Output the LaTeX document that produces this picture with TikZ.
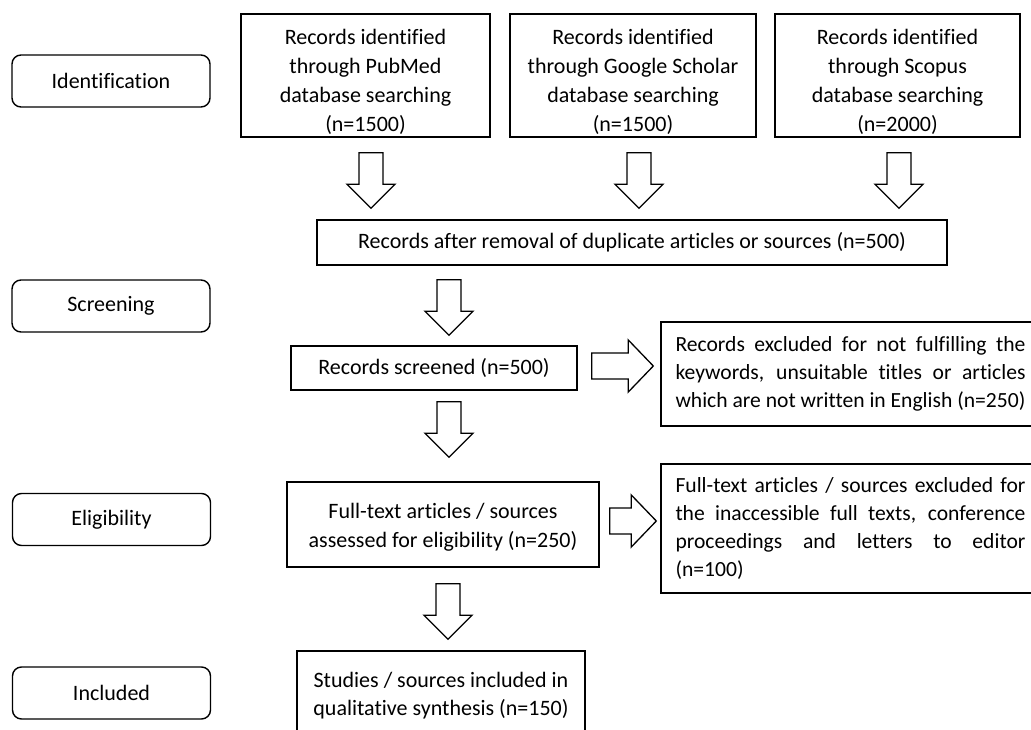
\documentclass[tikz,border=0pt]{standalone}
\usepackage{fontspec}
\setmainfont[Ligatures=CommonOff]{Carlito}
\usetikzlibrary{calc}
\tikzset{
  box/.style={draw, line width=1.4pt, align=center, inner sep=0pt, font=\fontsize{22}{28.7}\selectfont},
  stage/.style={box, rounded corners=9pt, minimum width=198pt, minimum height=52pt},
  exbox/.style={box, align=justify, text width=350pt, minimum width=379pt, font=\fontsize{21.6}{27.8}\selectfont},
  blk/.style={draw, line width=1.3pt, fill=white, line join=miter},
  blkdown/.style={blk, to path={let \p1=(\tikztostart), \p2=(\tikztotarget) in
    (\x1-12pt,\y1) -- (\x1+12pt,\y1) -- (\x1+12pt,\y2+24pt) -- (\x1+24pt,\y2+24pt)
    -- (\x1,\y2) -- (\x1-24pt,\y2+24pt) -- (\x1-12pt,\y2+24pt) -- cycle}},
  blkright/.style={blk, to path={let \p1=(\tikztostart), \p2=(\tikztotarget) in
    (\x1,\y1-13pt) -- (\x2-25pt,\y1-13pt) -- (\x2-25pt,\y1-26pt) -- (\x2,\y1)
    -- (\x2-25pt,\y1+26pt) -- (\x2-25pt,\y1+13pt) -- (\x1,\y1+13pt) -- cycle}},
}
\newcommand{\lowerby}[1]{\rule{0pt}{#1}}
\begin{document}
\begin{tikzpicture}[x=1pt,y=-1pt]
\useasboundingbox (0,0) rectangle (1031,730);
\fill[white] (0,0) rectangle (1031,730);

% stage labels
\node[stage] (idl) at (111,81) {Identification};
\node[stage] (scl) at (111,306) {Screening};
\node[stage] (ell) at (111.5,519.5) {Eligibility};
\node[stage] (inl) at (111.5,693) {Included};

% identification boxes
\node[box, minimum width=249pt, minimum height=123pt] (pub) at (365.5,75.5)
  {\lowerby{28pt}Records identified\\through PubMed\\database searching\\(n=1500)};
\node[box, minimum width=246pt, minimum height=123pt] (ggl) at (633,75.5)
  {\lowerby{28pt}Records identified\\through Google Scholar\\database searching\\(n=1500)};
\node[box, minimum width=245pt, minimum height=123pt] (sco) at (897.5,75.5)
  {\lowerby{28pt}Records identified\\through Scopus\\database searching\\(n=2000)};

\node[box, minimum width=630pt, minimum height=45pt] (rem) at (632,242.5)
  {Records after removal of duplicate articles or sources (n=500)};

\node[box, minimum width=286pt, minimum height=44pt] (scr) at (434,368)
  {Records screened (n=500)};

\node[exbox, minimum height=104pt] (ex1) at (850.5,374)
  {Records excluded for not fulfilling the\linebreak keywords, unsuitable titles or articles\linebreak which are not written in English (n=250)};

\node[box, minimum width=312pt, minimum height=85pt] (ful) at (443,524.5)
  {\lowerby{21pt}Full-text articles / sources\\assessed for eligibility (n=250)};

\node[exbox, minimum height=129pt] (ex2) at (850.5,528.5)
  {Full-text articles / sources excluded for\linebreak the inaccessible full texts, conference\linebreak proceedings and letters to editor\linebreak (n=100)};

\node[box, minimum width=288pt, minimum height=89pt] (inc) at (441,695.5)
  {Studies / sources included in\\qualitative synthesis (n=150)};

% block arrows
\draw[blkdown] ($(pub.south)+(5.5,15)$) to ($(rem.north)+(0,-11)$);
\draw[blkdown] ($(ggl.south)+(6,15)$) to ($(rem.north)+(0,-11)$);
\draw[blkdown] ($(sco.south)+(1.5,15)$) to ($(rem.north)+(0,-11)$);
\draw[blkdown] ($(rem.south -| scr.north)+(15,14)$) to ($(scr.north)+(0,-10)$);
\draw[blkdown] ($(scr.south)+(15,11)$) to ($(ful.north)+(0,-24)$);
\draw[blkdown] ($(ful.south)+(5,16)$) to ($(inc.north)+(0,-11)$);
\draw[blkright] ($(scr.east)+(14,-2)$) to ($(ex1.west)+(-7,0)$);
\draw[blkright] ($(ful.east)+(10,-3.5)$) to ($(ex2.west)+(-4,0)$);
\end{tikzpicture}
\end{document}
